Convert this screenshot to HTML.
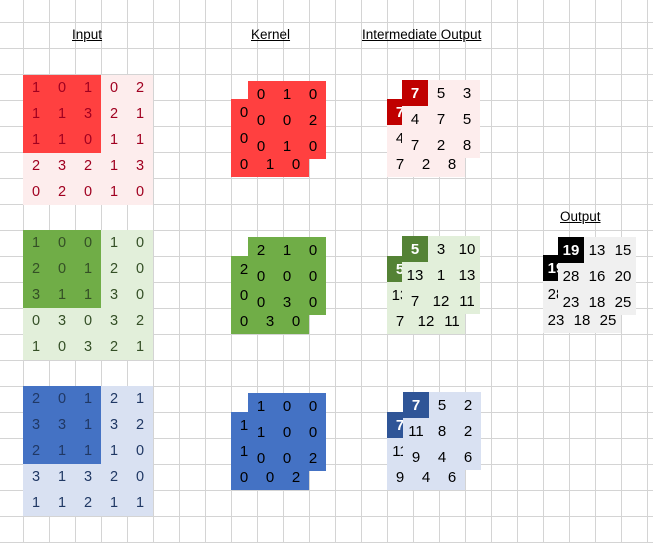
<!DOCTYPE html>
<html><head><meta charset="utf-8"><style>
html,body{margin:0;padding:0}
body{width:653px;height:543px;position:relative;overflow:hidden;background-color:#fff;
background-image:linear-gradient(to right,#d4d4d4 1px,transparent 1px),linear-gradient(to bottom,#d4d4d4 1px,transparent 1px);
background-size:26px 26px;background-position:23px 22px;font-family:"Liberation Sans","DejaVu Sans",sans-serif}
.t{position:absolute;font-size:13.5px;text-decoration:underline;color:#000;white-space:nowrap}
.g{position:absolute;display:grid;font-size:14.5px}
.g5{grid-template-columns:repeat(5,26px);grid-auto-rows:26px}
.g3{grid-template-columns:repeat(3,26px);grid-auto-rows:26px;font-size:15px}
.g span{display:flex;align-items:center;justify-content:center}
.d{position:absolute;width:78px;height:78px}
.h{color:#fff;font-weight:bold}
</style></head><body>
<div class="t" style="left:72px;top:27px">Input</div>
<div class="t" style="left:251px;top:27px">Kernel</div>
<div class="t" style="left:362px;top:27px">Intermediate Output</div>
<div class="t" style="left:560px;top:209px">Output</div>

<!-- red input -->
<div class="g g5" style="left:23px;top:75px;background:#fdeded;color:#a00020;height:130px"></div>
<div class="d" style="left:23px;top:75px;background:#ff4040"></div>
<div class="g g5" style="left:23px;top:75px;color:#a00020">
<span>1</span><span>0</span><span>1</span><span>0</span><span>2</span>
<span>1</span><span>1</span><span>3</span><span>2</span><span>1</span>
<span>1</span><span>1</span><span>0</span><span>1</span><span>1</span>
<span>2</span><span>3</span><span>2</span><span>1</span><span>3</span>
<span>0</span><span>2</span><span>0</span><span>1</span><span>0</span></div>

<!-- green input -->
<div class="g g5" style="left:23px;top:230px;background:#e2efda;height:130px"></div>
<div class="d" style="left:23px;top:230px;background:#70ad47"></div>
<div class="g g5" style="left:23px;top:230px;color:#344f26">
<span>1</span><span>0</span><span>0</span><span>1</span><span>0</span>
<span>2</span><span>0</span><span>1</span><span>2</span><span>0</span>
<span>3</span><span>1</span><span>1</span><span>3</span><span>0</span>
<span>0</span><span>3</span><span>0</span><span>3</span><span>2</span>
<span>1</span><span>0</span><span>3</span><span>2</span><span>1</span></div>

<!-- blue input -->
<div class="g g5" style="left:23px;top:386px;background:#d9e1f2;height:130px"></div>
<div class="d" style="left:23px;top:386px;background:#4472c4"></div>
<div class="g g5" style="left:23px;top:386px;color:#203864">
<span>2</span><span>0</span><span>1</span><span>2</span><span>1</span>
<span>3</span><span>3</span><span>1</span><span>3</span><span>2</span>
<span>2</span><span>1</span><span>1</span><span>1</span><span>0</span>
<span>3</span><span>1</span><span>3</span><span>2</span><span>0</span>
<span>1</span><span>1</span><span>2</span><span>1</span><span>1</span></div>

<!-- kernels -->
<div class="g g3" style="left:231px;top:99px;background:#ff4040"><span>0</span><span>0</span><span>0</span><span>0</span><span>0</span><span>0</span><span>0</span><span>1</span><span>0</span></div>
<div class="g g3" style="left:248px;top:81px;background:#ff4040"><span>0</span><span>1</span><span>0</span><span>0</span><span>0</span><span>2</span><span>0</span><span>1</span><span>0</span></div>

<div class="g g3" style="left:231px;top:256px;background:#70ad47"><span>2</span><span>0</span><span>0</span><span>0</span><span>0</span><span>0</span><span>0</span><span>3</span><span>0</span></div>
<div class="g g3" style="left:248px;top:237px;background:#70ad47"><span>2</span><span>1</span><span>0</span><span>0</span><span>0</span><span>0</span><span>0</span><span>3</span><span>0</span></div>

<div class="g g3" style="left:231px;top:412px;background:#4472c4"><span>1</span><span>0</span><span>0</span><span>1</span><span>0</span><span>0</span><span>0</span><span>0</span><span>2</span></div>
<div class="g g3" style="left:248px;top:393px;background:#4472c4"><span>1</span><span>0</span><span>0</span><span>1</span><span>0</span><span>0</span><span>0</span><span>0</span><span>2</span></div>

<!-- intermediate -->
<div class="g g3" style="left:387px;top:99px;background:#fdeded"><span class="h" style="background:#c00000">7</span><span>5</span><span>3</span><span>4</span><span>7</span><span>5</span><span>7</span><span>2</span><span>8</span></div>
<div class="g g3" style="left:402px;top:80px;background:#fdeded"><span class="h" style="background:#c00000">7</span><span>5</span><span>3</span><span>4</span><span>7</span><span>5</span><span>7</span><span>2</span><span>8</span></div>

<div class="g g3" style="left:387px;top:256px;background:#e2efda"><span class="h" style="background:#548235">5</span><span>3</span><span>10</span><span>13</span><span>1</span><span>13</span><span>7</span><span>12</span><span>11</span></div>
<div class="g g3" style="left:402px;top:236px;background:#e2efda"><span class="h" style="background:#548235">5</span><span>3</span><span>10</span><span>13</span><span>1</span><span>13</span><span>7</span><span>12</span><span>11</span></div>

<div class="g g3" style="left:387px;top:412px;background:#d9e1f2"><span class="h" style="background:#2f5597">7</span><span>5</span><span>2</span><span>11</span><span>8</span><span>2</span><span>9</span><span>4</span><span>6</span></div>
<div class="g g3" style="left:403px;top:392px;background:#d9e1f2"><span class="h" style="background:#2f5597">7</span><span>5</span><span>2</span><span>11</span><span>8</span><span>2</span><span>9</span><span>4</span><span>6</span></div>

<!-- output -->
<div class="g g3" style="left:543px;top:255px;background:#f0f0f0"><span class="h" style="background:#000">19</span><span>13</span><span>15</span><span>28</span><span>16</span><span>20</span><span>23</span><span>18</span><span>25</span></div>
<div class="g g3" style="left:558px;top:237px;background:#f0f0f0"><span class="h" style="background:#000">19</span><span>13</span><span>15</span><span>28</span><span>16</span><span>20</span><span>23</span><span>18</span><span>25</span></div>
</body></html>
